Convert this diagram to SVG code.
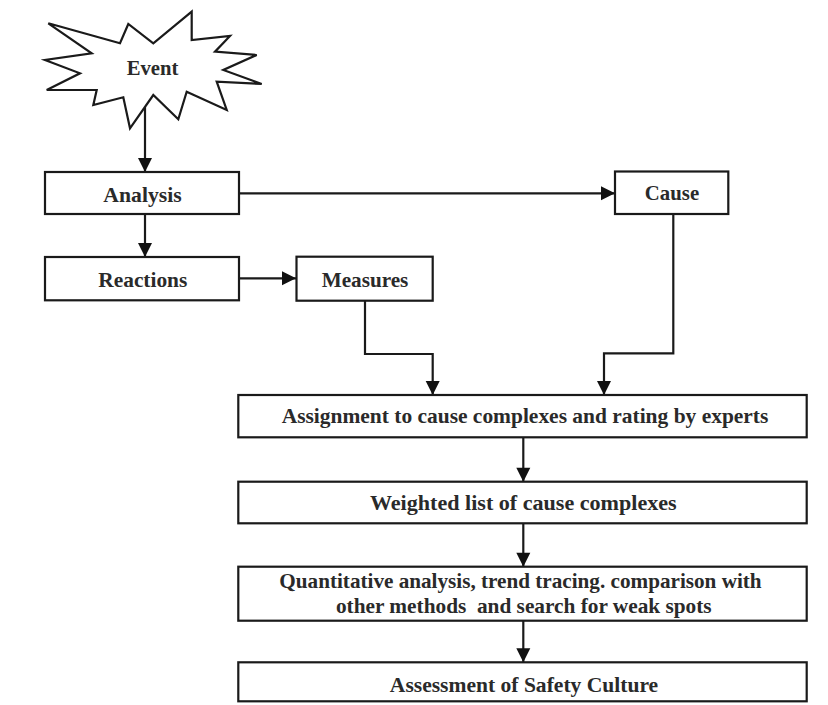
<svg xmlns="http://www.w3.org/2000/svg" width="828" height="705" viewBox="0 0 828 705">
  <style>
    .box { fill: #ffffff; stroke: #1a1a1a; stroke-width: 2.2; }
    .lbl { font-family: "Liberation Serif", "Times New Roman", serif; font-weight: bold; font-size: 21px; fill: #2a2a2a; text-anchor: middle; }
    .con { fill: none; stroke: #1a1a1a; stroke-width: 2.2; marker-end: url(#arr); }
  </style>
  <defs>
    <marker id="arr" markerUnits="userSpaceOnUse" markerWidth="16" markerHeight="16" viewBox="0 0 16 16" refX="15" refY="8" orient="auto">
      <path d="M1,1 L15,8 L1,15 z" fill="#111111"/>
    </marker>
  </defs>
  <rect width="828" height="705" fill="#ffffff"/>

  <g id="connectors">
    <path class="con" d="M145,107 L145,172"/>
    <path class="con" d="M145,214 L145,257"/>
    <path class="con" d="M239,193.3 L615,193.3"/>
    <path class="con" d="M239,278.3 L296,278.3"/>
    <path class="con" d="M365,300.7 L365,354 L432.7,354 L432.7,395"/>
    <path class="con" d="M673.3,214 L673.3,353.3 L604,353.3 L604,395"/>
    <path class="con" d="M523.3,437.3 L523.3,481.7"/>
    <path class="con" d="M523.3,523.3 L523.3,566.7"/>
    <path class="con" d="M523.3,620.7 L523.3,662.3"/>
  </g>

  <g id="event">
    <polygon class="box" points="48.3,23.3 120,43.3 128.3,24 153.3,43.3 191.7,11.7 191.7,40 230,36 215,51.7 256.7,55 223.3,70 261.7,84 216.7,81.7 226.7,110 186.7,91.7 178.3,119.3 153.3,95 130,128.3 123.3,97.3 93.3,105 96.7,90 46.7,90 80,73.3 45,60 91.7,53.3"/>
    <text class="lbl" x="152.5" y="75" textLength="51.7" lengthAdjust="spacingAndGlyphs">Event</text>
  </g>

  <g id="analysis">
    <rect class="box" x="45" y="172" width="194" height="42"/>
    <text class="lbl" x="142.5" y="201.7" textLength="78.3" lengthAdjust="spacingAndGlyphs">Analysis</text>
  </g>

  <g id="cause">
    <rect class="box" x="615" y="171.5" width="113.3" height="42.5"/>
    <text class="lbl" x="672" y="200" textLength="54.3" lengthAdjust="spacingAndGlyphs">Cause</text>
  </g>

  <g id="reactions">
    <rect class="box" x="45" y="257" width="194" height="43.3"/>
    <text class="lbl" x="142.8" y="286.7" textLength="89" lengthAdjust="spacingAndGlyphs">Reactions</text>
  </g>

  <g id="measures">
    <rect class="box" x="296.5" y="256.7" width="136.2" height="44"/>
    <text class="lbl" x="365" y="287" textLength="86.7" lengthAdjust="spacingAndGlyphs">Measures</text>
  </g>

  <g id="assignment">
    <rect class="box" x="238.3" y="395" width="568.4" height="42.3"/>
    <text class="lbl" x="525" y="423.3" textLength="486.7" lengthAdjust="spacingAndGlyphs">Assignment to cause complexes and rating by experts</text>
  </g>

  <g id="weighted">
    <rect class="box" x="238.3" y="481.7" width="568.4" height="41.6"/>
    <text class="lbl" x="523.3" y="510" textLength="306.7" lengthAdjust="spacingAndGlyphs">Weighted list of cause complexes</text>
  </g>

  <g id="quantitative">
    <rect class="box" x="238.3" y="566.7" width="568.4" height="54"/>
    <text class="lbl" x="520.5" y="588.3" textLength="482.3" lengthAdjust="spacingAndGlyphs">Quantitative analysis, trend tracing. comparison with</text>
    <text class="lbl" x="523.8" y="612.7" textLength="375.7" lengthAdjust="spacingAndGlyphs" xml:space="preserve">other methods  and search for weak spots</text>
  </g>

  <g id="assessment">
    <rect class="box" x="238.3" y="662.3" width="568.4" height="39"/>
    <text class="lbl" x="524" y="691.7" textLength="268.3" lengthAdjust="spacingAndGlyphs">Assessment of Safety Culture</text>
  </g>
</svg>
